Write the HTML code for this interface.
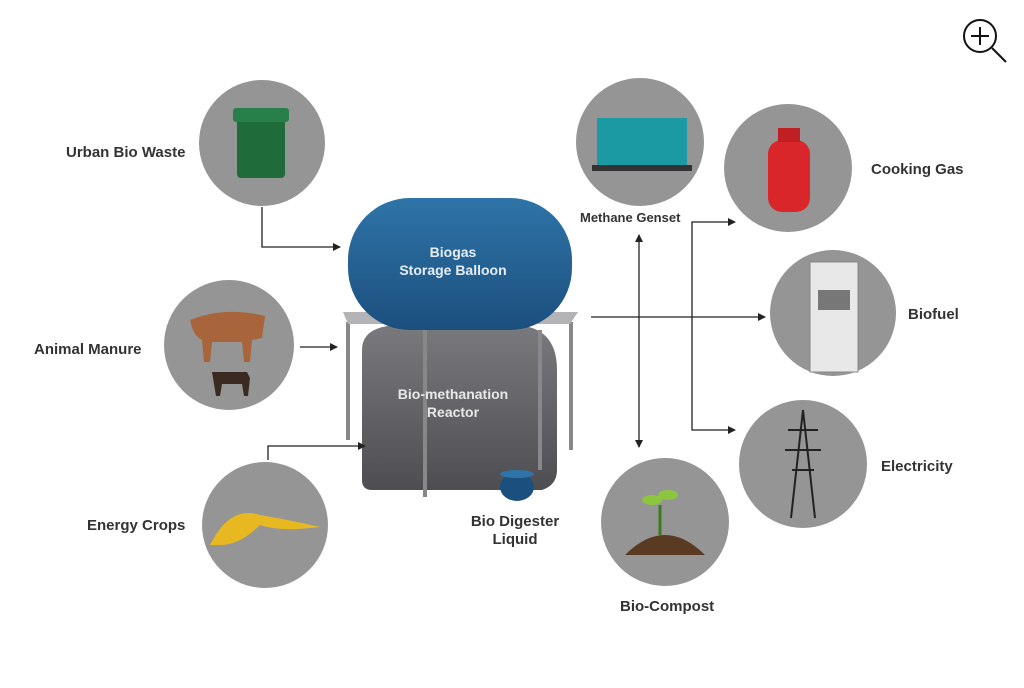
<!DOCTYPE html>
<html><head><meta charset="utf-8"><style>
body{margin:0;background:#fff;width:1024px;height:683px;overflow:hidden;font-family:"Liberation Sans",sans-serif}
</style></head><body>
<svg width="1024" height="683" viewBox="0 0 1024 683" xmlns="http://www.w3.org/2000/svg">
<defs>
<marker id="a" markerWidth="8" markerHeight="8" refX="7" refY="4" orient="auto-start-reverse" markerUnits="userSpaceOnUse"><path d="M0,0 L8,4 L0,8z" fill="#222"/></marker>
<linearGradient id="bl" x1="0" y1="0" x2="0" y2="1"><stop offset="0" stop-color="#2f74a8"/><stop offset="1" stop-color="#1b4f7e"/></linearGradient>
<linearGradient id="gr" x1="0" y1="0" x2="0" y2="1"><stop offset="0" stop-color="#7a7a7e"/><stop offset="1" stop-color="#4e4e52"/></linearGradient>
</defs>
<circle cx="980" cy="36" r="16" fill="none" stroke="#111" stroke-width="2"/>
<path d="M980 27v18M971 36h18M992 48l14 14" stroke="#111" stroke-width="2"/>
<g fill="#959595">
<circle cx="262" cy="143" r="63"/><circle cx="229" cy="345" r="65"/><circle cx="265" cy="525" r="63"/>
<circle cx="640" cy="142" r="64"/><circle cx="788" cy="168" r="64"/><circle cx="833" cy="313" r="63"/>
<circle cx="803" cy="464" r="64"/><circle cx="665" cy="522" r="64"/>
</g>
<rect x="237" y="118" width="48" height="60" rx="4" fill="#1f6b3a"/><rect x="233" y="108" width="56" height="14" rx="3" fill="#27804a"/>
<path d="M190 320 q35 -14 75 -4 l-3 22 -10 2 -2 22 h-6 l-2 -20 h-30 l-2 20 h-6 l-2 -22 q-10 -5 -12 -22z" fill="#a8643a"/>
<path d="M212 372 h35 l3 6 -2 18 h-4 l-2 -12 h-20 l-2 12 h-4z" fill="#3b2a22"/>
<path d="M210 545 q20 -40 50 -30 q30 5 60 12 q-40 5 -60 -2 q-20 20 -40 20z" fill="#e8b820"/>
<rect x="597" y="118" width="90" height="50" fill="#1c9aa3"/><rect x="592" y="165" width="100" height="6" fill="#333"/>
<rect x="768" y="140" width="42" height="72" rx="14" fill="#d8262a"/><rect x="778" y="128" width="22" height="14" fill="#c02024"/>
<rect x="810" y="262" width="48" height="110" fill="#e8e8e8" stroke="#888"/><rect x="818" y="290" width="32" height="20" fill="#777"/>
<path d="M803 410 l-12 108 M803 410 l12 108 M788 430h30 M785 450h36 M792 470h22" stroke="#222" stroke-width="2" fill="none"/>
<path d="M625 555 q40 -40 80 0z" fill="#5a3a22"/><path d="M660 535 v-30" stroke="#3a7a20" stroke-width="3"/><ellipse cx="652" cy="500" rx="10" ry="5" fill="#8cc63f"/><ellipse cx="668" cy="495" rx="10" ry="5" fill="#8cc63f"/>
<path d="M362 350 q0 -25 40 -25 h110 q45 0 45 45 v100 q0 15 -15 20 h-170 q-10 0 -10 -10z" fill="url(#gr)"/>
<g stroke="#888" stroke-width="4"><line x1="348" y1="322" x2="348" y2="440"/><line x1="571" y1="322" x2="571" y2="450"/><line x1="425" y1="330" x2="425" y2="497"/><line x1="540" y1="330" x2="540" y2="470"/></g>
<path d="M343 312 h235 l-8 12 h-222z" fill="#b4b4b6"/>
<rect x="348" y="198" width="224" height="132" rx="62" fill="url(#bl)"/>
<ellipse cx="517" cy="487" rx="17" ry="14" fill="#1b4f7e"/><ellipse cx="517" cy="474" rx="17" ry="4" fill="#2f74a8"/>
<text x="453" y="257" font-size="14" font-weight="bold" fill="#e6eef5" text-anchor="middle">Biogas</text>
<text x="453" y="275" font-size="14" font-weight="bold" fill="#e6eef5" text-anchor="middle">Storage Balloon</text>
<text x="453" y="399" font-size="14" font-weight="bold" fill="#e8e8e8" text-anchor="middle">Bio-methanation</text>
<text x="453" y="417" font-size="14" font-weight="bold" fill="#e8e8e8" text-anchor="middle">Reactor</text>
<g stroke="#222" stroke-width="1.3" fill="none">
<path d="M262 207 V247 H340" marker-end="url(#a)"/>
<path d="M300 347 H337" marker-end="url(#a)"/>
<path d="M268 460 V446 H365" marker-end="url(#a)"/>
<path d="M639 235 V447" marker-start="url(#a)" marker-end="url(#a)"/>
<path d="M591 317 H765" marker-end="url(#a)"/>
<path d="M735 222 H692 V430 H735" marker-start="url(#a)" marker-end="url(#a)"/>
</g>
<g font-size="15" font-weight="bold" fill="#333">
<text x="66" y="157">Urban Bio Waste</text>
<text x="34" y="354">Animal Manure</text>
<text x="87" y="530">Energy Crops</text>
<text x="871" y="174">Cooking Gas</text>
<text x="908" y="319">Biofuel</text>
<text x="881" y="471">Electricity</text>
<text x="620" y="611">Bio-Compost</text>
<text x="515" y="526" text-anchor="middle">Bio Digester</text>
<text x="515" y="544" text-anchor="middle">Liquid</text>
<text x="580" y="222" font-size="13">Methane Genset</text>
</g>
</svg>
</body></html>
